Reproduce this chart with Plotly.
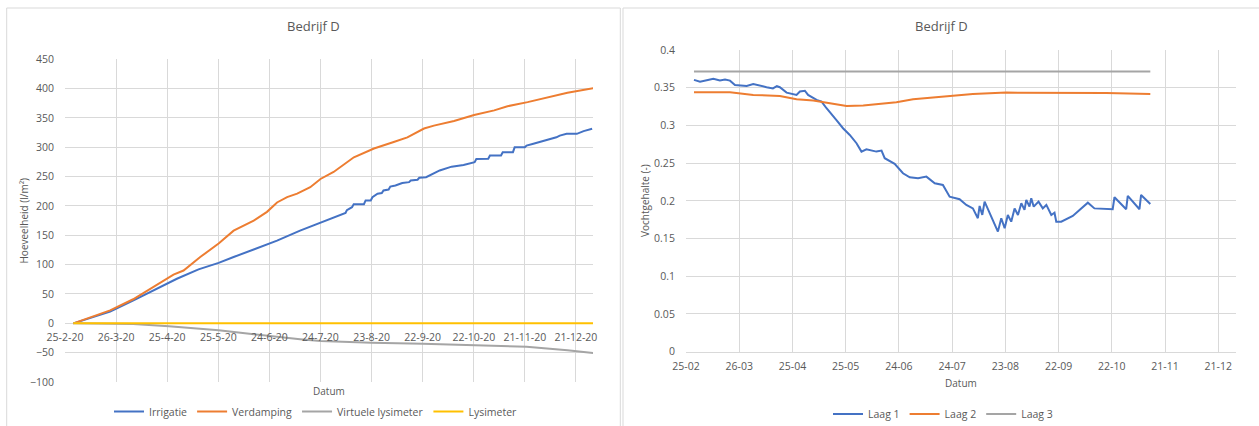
import pandas as pd
import plotly.graph_objects as go

W, H = 1259, 426
START = pd.Timestamp("2020-02-25")
END = pd.Timestamp("2020-12-31")


def to_dates(days):
    return START + pd.to_timedelta(days, unit="D")


# ---------------- Left chart data (days since 25-2-2020, l/m2) ----------------
irr_day = [4.9, 26.5, 40.2, 54, 65.7, 78.4, 90.2, 99, 110.8, 120.2, 124.5, 138, 150,
           164.7, 165.5, 168.5, 169.5, 175.5, 176.5, 179.5, 180.5, 183.5, 186, 187, 190,
           191, 194, 198, 202, 203, 207, 208, 212, 220, 227, 234, 240.5, 241.5, 248.5,
           249.5, 256, 257, 263, 264, 270, 271, 275, 288.5, 290.5, 294.5, 300.5, 304.5,
           309.5]
irr_val = [0, 20, 39, 59, 76, 92, 103, 113, 126, 135, 141, 158, 172,
           188, 193, 198, 203, 203, 209.5, 209.5, 215, 221, 222, 226.5, 228,
           233, 235, 239, 240.6, 243.5, 244.7, 248, 249, 260.6, 267, 270, 274.7, 280, 280.5,
           286, 286, 291.7, 291.7, 300, 300, 303, 306, 317, 320, 323, 323, 327.6,
           331.6]

verd_day = [4.9, 26.5, 40, 54, 63.7, 69.6, 79.4, 90.2, 99, 110.8, 118.6, 124.5, 130.4,
            136.3, 144, 150, 157.7, 169.6, 181.4, 193, 201, 210.8, 216.6, 228.4, 240.2,
            252, 259.8, 271.6, 283.3, 295, 310.4]
verd_val = [0, 22, 41, 65, 83, 90, 113, 136, 158, 175, 190, 206, 215,
            221, 232, 246, 258, 283, 298, 309, 317, 332, 337, 345, 355,
            363, 370, 377, 385, 393, 401]

vlys_day = [4.9, 30, 40, 61, 79.4, 90.2, 110.8, 128.4, 138, 150, 180, 210, 240, 271,
            295, 310.4]
vlys_val = [0, 0, -1, -5, -9, -12, -18.7, -24.4, -27, -30, -33, -34.6, -37.5, -40,
            -46, -50.6]

lys_day = [4.9, 310.4]
lys_val = [0, 0]

tick_day = [0, 30, 60, 90, 120, 150, 180, 210, 240, 270, 300]
left_ticks = ["25-2-20", "26-3-20", "25-4-20", "25-5-20", "24-6-20", "24-7-20",
              "23-8-20", "22-9-20", "22-10-20", "21-11-20", "21-12-20"]
right_ticks = ["25-02", "26-03", "25-04", "25-05", "24-06", "24-07",
               "23-08", "22-09", "22-10", "21-11", "21-12"]

# ---------------- Right chart data (days since 25-02, moisture content) ----------------
laag1_day = [4.5, 7.9, 11.7, 15.4, 19.1, 22.0, 24.8, 27.6, 34.2, 37.9, 45.4, 49.0, 51.2,
             52.9, 56.7, 62.3, 64.2, 67.0, 68.8, 73.6, 76.4, 79.2, 84.8, 88.5, 92.3, 96.1,
             98.9, 101.7, 107.3, 110.2, 112.0, 117.6, 122.3, 126.1, 130.8, 135.5, 140.2,
             144.8, 148.6, 151.4, 154.2, 158.0, 161.7, 164.5, 165.5, 167.0, 168.3, 175.8,
             177.7, 179.6, 181.4, 183.3, 185.2, 187.1, 189.0, 190.8, 191.8, 193.6, 194.6,
             196.0, 198.7, 201.1, 203.1, 205.9, 207.7, 208.7, 211.5, 218.0, 226.5, 230.2,
             240.5, 241.5, 248.1, 249.0, 255.6, 256.5, 261.7]
laag1_val = [0.3604, 0.358, 0.360, 0.3617, 0.3595, 0.361, 0.3594, 0.3537, 0.3524, 0.355,
             0.3507, 0.349, 0.352, 0.3507, 0.3435, 0.3405, 0.345, 0.346, 0.3405, 0.3338,
             0.3316, 0.3228, 0.307, 0.2963, 0.2874, 0.2764, 0.2653, 0.2684, 0.2653, 0.2666,
             0.2565, 0.249, 0.2366, 0.2313, 0.230, 0.2321, 0.2233, 0.2211, 0.2056, 0.2034,
             0.2021, 0.1946, 0.190, 0.177, 0.1932, 0.1813, 0.199, 0.1592, 0.177, 0.1637,
             0.1813, 0.1724, 0.190, 0.1813, 0.1968, 0.188, 0.2012, 0.1923, 0.2034, 0.1923,
             0.199, 0.190, 0.1946, 0.1813, 0.1843, 0.1724, 0.1724, 0.180, 0.1976, 0.190,
             0.1889, 0.2048, 0.1889, 0.2065, 0.1889, 0.2078, 0.1959]

laag2_day = [4.5, 24.8, 37.9, 52.9, 62.3, 71.7, 81.1, 90.5, 99.9, 109.2, 118.6, 128.0,
             137.4, 154.2, 161.7, 180.5, 208.7, 236.8, 261.7]
laag2_val = [0.344, 0.344, 0.3405, 0.3391, 0.3347, 0.333, 0.3294, 0.3259, 0.3263, 0.3281,
             0.3308, 0.3347, 0.3369, 0.3405, 0.3418, 0.3435, 0.3435, 0.343, 0.3418]

laag3_day = [4.5, 130, 261.7]
laag3_val = [0.3715, 0.3715, 0.3715]

# ---------------- Styling ----------------
FONT = "Open Sans"
TXT = "#595959"
GRID = "#D9D9D9"
BLUE, ORANGE, GRAY, YELLOW = "#4472C4", "#ED7D31", "#A5A5A5", "#FFC000"
LW = 2

tickdates = to_dates(tick_day)

fig = go.Figure()

fig.add_trace(go.Scatter(x=to_dates(irr_day), y=irr_val, name="Irrigatie", mode="lines",
                         line=dict(color=BLUE, width=LW), xaxis="x", yaxis="y", legend="legend"))
fig.add_trace(go.Scatter(x=to_dates(verd_day), y=verd_val, name="Verdamping", mode="lines",
                         line=dict(color=ORANGE, width=LW), xaxis="x", yaxis="y", legend="legend"))
fig.add_trace(go.Scatter(x=to_dates(vlys_day), y=vlys_val, name="Virtuele lysimeter", mode="lines",
                         line=dict(color=GRAY, width=LW), xaxis="x", yaxis="y", legend="legend"))
fig.add_trace(go.Scatter(x=to_dates(lys_day), y=lys_val, name="Lysimeter", mode="lines",
                         line=dict(color=YELLOW, width=LW), xaxis="x3", yaxis="y", legend="legend"))

fig.add_trace(go.Scatter(x=to_dates(laag1_day), y=laag1_val, name="Laag 1", mode="lines",
                         line=dict(color=BLUE, width=LW), xaxis="x2", yaxis="y2", legend="legend2"))
fig.add_trace(go.Scatter(x=to_dates(laag2_day), y=laag2_val, name="Laag 2", mode="lines",
                         line=dict(color=ORANGE, width=LW), xaxis="x2", yaxis="y2", legend="legend2"))
fig.add_trace(go.Scatter(x=to_dates(laag3_day), y=laag3_val, name="Laag 3", mode="lines",
                         line=dict(color=GRAY, width=LW), xaxis="x2", yaxis="y2", legend="legend2"))


def px(x):
    return x / W


def py(y):
    return 1 - y / H


tickfont = dict(family=FONT, size=10.5, color=TXT)
LEFT_TOP, LEFT_BOT = 59.3, 382.0
RIGHT_TOP, RIGHT_BOT = 50.0, 351.7
YMIN, YMAX = -100, 450
zero_paper = py(LEFT_BOT) + (py(LEFT_TOP) - py(LEFT_BOT)) * (0 - YMIN) / (YMAX - YMIN)

fig.update_layout(
    template="none",
    width=W, height=H,
    margin=dict(l=0, r=0, t=0, b=0, pad=0, autoexpand=False),
    paper_bgcolor="white", plot_bgcolor="white",
    font=dict(family=FONT, color=TXT),
    showlegend=True,
    xaxis=dict(domain=[px(65), px(593)], anchor="y", range=[START, END], tickvals=tickdates,
               showticklabels=False, showgrid=True, gridcolor=GRID, gridwidth=1,
               zeroline=False, showline=False, ticks="", automargin=False),
    xaxis3=dict(overlaying="x", anchor="free", position=zero_paper, range=[START, END],
                tickvals=tickdates, ticktext=left_ticks, showgrid=False, zeroline=False,
                showline=False, ticks="outside", ticklen=4, tickcolor="rgba(0,0,0,0)",
                tickfont=tickfont, automargin=False),
    yaxis=dict(domain=[py(LEFT_BOT), py(LEFT_TOP)], anchor="x", range=[YMIN, YMAX], dtick=50,
               tick0=0, showgrid=True, gridcolor=GRID, gridwidth=1, zeroline=False,
               showline=False, ticks="outside", ticklen=8, tickcolor="rgba(0,0,0,0)",
               tickfont=tickfont, automargin=False),
    xaxis2=dict(domain=[px(686), px(1236)], anchor="y2", range=[START, END], tickvals=tickdates,
                ticktext=right_ticks, showgrid=True, gridcolor=GRID, gridwidth=1,
                zeroline=False, showline=True, linecolor=GRID, linewidth=1,
                ticks="outside", ticklen=5, tickcolor="rgba(0,0,0,0)", tickfont=tickfont,
                automargin=False),
    yaxis2=dict(domain=[py(RIGHT_BOT), py(RIGHT_TOP)], anchor="x2", range=[0, 0.4], dtick=0.05,
                tick0=0, showgrid=True, gridcolor=GRID, gridwidth=1, zeroline=False,
                showline=False, ticks="outside", ticklen=8, tickcolor="rgba(0,0,0,0)",
                tickfont=tickfont, automargin=False),
    legend=dict(orientation="h", x=px(316), y=py(411.5), xanchor="center", yanchor="middle",
                font=dict(family=FONT, size=10.5, color=TXT), bgcolor="rgba(0,0,0,0)",
                itemwidth=30, tracegroupgap=0),
    legend2=dict(orientation="h", x=px(943), y=py(414), xanchor="center", yanchor="middle",
                 font=dict(family=FONT, size=10.5, color=TXT), bgcolor="rgba(0,0,0,0)",
                 itemwidth=30, tracegroupgap=0),
    shapes=[
        dict(type="rect", xref="paper", yref="paper", x0=px(6.7), x1=px(620.3), y0=py(440),
             y1=py(8), line=dict(color=GRID, width=1), fillcolor="rgba(0,0,0,0)", layer="below"),
        dict(type="rect", xref="paper", yref="paper", x0=px(623), x1=px(1270), y0=py(440),
             y1=py(8), line=dict(color=GRID, width=1), fillcolor="rgba(0,0,0,0)", layer="below"),
    ],
)

annos = [
    dict(text="Bedrijf D", x=px(313), y=py(26), size=13, angle=0),
    dict(text="Bedrijf D", x=px(941), y=py(26), size=13, angle=0),
    dict(text="Hoeveelheid (l/m²)", x=px(23), y=py(220.5), size=10, angle=-90),
    dict(text="Vochtgehalte (-)", x=px(645), y=py(201), size=10, angle=-90),
    dict(text="Datum", x=px(329), y=py(391), size=10, angle=0),
    dict(text="Datum", x=px(961), y=py(383), size=10, angle=0),
]
for a in annos:
    fig.add_annotation(text=a["text"], x=a["x"], y=a["y"], xref="paper", yref="paper",
                       xanchor="center", yanchor="middle", showarrow=False,
                       textangle=a["angle"], font=dict(family=FONT, size=a["size"], color=TXT))

fig.write_html("out.html")
